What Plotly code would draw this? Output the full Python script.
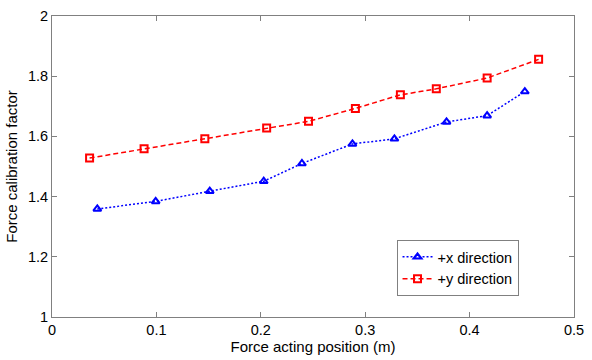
import plotly.graph_objects as go

x_pos = [0.0434, 0.0993, 0.1511, 0.2028, 0.2394, 0.2878, 0.3280, 0.3779, 0.4168, 0.4529]
x_factor = [1.359, 1.384, 1.418, 1.451, 1.510, 1.575, 1.592, 1.648, 1.669, 1.749]
y_pos = [0.0360, 0.0882, 0.1464, 0.2056, 0.2457, 0.2906, 0.3337, 0.3681, 0.4168, 0.4661]
y_factor = [1.528, 1.559, 1.592, 1.628, 1.650, 1.693, 1.738, 1.758, 1.794, 1.856]

x_ticks = [0, 0.1, 0.2, 0.3, 0.4, 0.5]
x_tick_labels = ["0", "0.1", "0.2", "0.3", "0.4", "0.5"]
y_ticks = [1, 1.2, 1.4, 1.6, 1.8, 2]
y_tick_labels = ["1", "1.2", "1.4", "1.6", "1.8", "2"]

FONT = "Liberation Sans, Arial"

fig = go.Figure()
fig.add_trace(go.Scatter(
    x=x_pos, y=x_factor, mode="lines+markers", name="+x direction",
    line=dict(color="#0000ff", dash="2px,2px", width=1.5),
    marker=dict(symbol="triangle-up-open", size=7, color="#0000ff", line=dict(width=2)),
))
fig.add_trace(go.Scatter(
    x=y_pos, y=y_factor, mode="lines+markers", name="+y direction",
    line=dict(color="#ff0000", dash="5px,3px", width=1.5),
    marker=dict(symbol="square-open", size=7, color="#ff0000", line=dict(width=2)),
))

axis_common = dict(
    showgrid=False, zeroline=False, showline=True, linecolor="#808080", linewidth=1,
    mirror="allticks", ticks="inside", ticklen=5, tickcolor="#808080",
    tickfont=dict(family=FONT, size=14.5, color="#000000"),
)
fig.update_xaxes(range=[0, 0.5], tickvals=x_ticks, ticktext=x_tick_labels,
                 title=dict(text="Force acting position (m)", standoff=2,
                            font=dict(family=FONT, size=15, color="#000000")),
                 **axis_common)
fig.update_yaxes(range=[1, 2], tickvals=y_ticks, ticktext=y_tick_labels,
                 title=dict(text="Force calibration factor", standoff=6,
                            font=dict(family=FONT, size=15, color="#000000")),
                 **axis_common)

fig.update_layout(
    width=592, height=360,
    margin=dict(l=52, r=13, t=8, b=43),
    plot_bgcolor="#ffffff", paper_bgcolor="#ffffff",
    showlegend=True,
    legend=dict(x=0.66, y=0.256, xanchor="left", yanchor="top",
                bordercolor="#808080", borderwidth=1, bgcolor="#ffffff",
                font=dict(family=FONT, size=14.5, color="#000000"),
                tracegroupgap=0, itemwidth=30),
)

fig.write_html("out.html")
